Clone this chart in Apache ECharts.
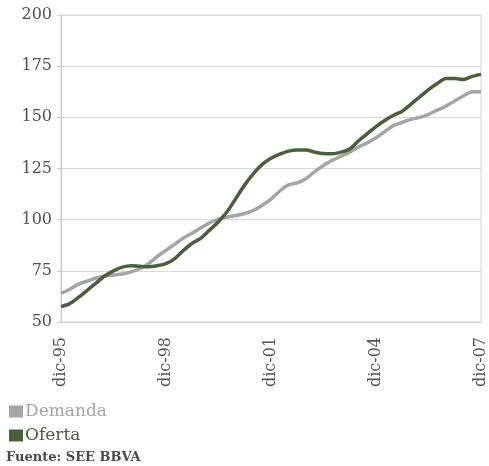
<!DOCTYPE html>
<html lang="es">
<head>
<meta charset="UTF-8">
<title>Demanda y Oferta</title>
<script src="https://cdn.jsdelivr.net/npm/echarts@6/dist/echarts.min.js"></script>
<style>
  html, body { margin: 0; padding: 0; background: #fff; }
  #container { width: 489px; height: 466px; }
</style>
</head>
<body>
<div id="container"></div>
<script>
// datos trimestrales, dic-95 .. dic-07
const years = ['95', '96', '97', '98', '99', '00', '01', '02', '03', '04', '05', '06', '07']
const quarters = ['dic', 'mar', 'jun', 'sep']
const categories = []
categories.push('dic-95')
for (let y = 1; y < years.length; y++) {
  for (let q = 1; q < 4; q++) categories.push(quarters[q] + '-' + years[y])
  categories.push('dic-' + years[y])
}

const demanda = [
  64, 66, 68.5, 70, 71.5, 72.5, 73, 73.5, 74.5, 76, 78.5, 82, 85,
  88, 91, 93.5, 96, 98.5, 100.3, 101.3, 102, 103, 104.5, 107, 110,
  114, 117, 118, 120, 123.5, 126.5, 129, 131, 133, 135.5, 137.5, 140,
  143, 146, 147.5, 149, 150, 151.5, 153.5, 155.5, 158, 160.5, 162.5, 162.5
]
const oferta = [
  57.5, 59, 62, 65.5, 69, 72.5, 75, 76.8, 77.5, 77.2, 77, 77.5, 78.5,
  81, 85, 88.5, 91, 95, 99, 104, 110.5, 117, 122.5, 127, 130,
  132, 133.5, 134, 134, 133, 132.3, 132.2, 133, 134.5, 138.5, 142, 145.5,
  148.5, 151, 153, 156.5, 160, 163.5, 166.5, 169, 169, 168.5, 170, 171
]

const yMin = 50
const yMax = 200
const yStep = 25

const GRAY = '#a5a5a7'
const GREEN = '#4a5f3e'
const FONT = 'DejaVu Serif'

// una leyenda por serie para colocarlas una debajo de otra
function legendItem(name, color, top) {
  return {
    left: 4,
    top: top,
    itemWidth: 14,
    itemHeight: 12,
    icon: 'rect',
    textStyle: { fontSize: 17, fontFamily: FONT, color: color, padding: [0, 0, 0, -3] },
    data: [name]
  }
}

const chart = echarts.init(document.getElementById('container'))
chart.setOption({
  animation: false,
  textStyle: { fontFamily: FONT },
  grid: {
    left: 61, right: 8, top: 15, bottom: 144,
    show: true, borderColor: '#d4d4d4', borderWidth: 1
  },
  xAxis: {
    type: 'category',
    data: categories,
    boundaryGap: false,
    axisLine: { show: true, lineStyle: { color: '#d4d4d4' } },
    axisTick: { show: false },
    axisLabel: {
      interval: 11,
      rotate: 90,
      margin: 15,
      color: '#555555',
      fontSize: 16,
      fontFamily: FONT
    },
    splitLine: { show: false }
  },
  yAxis: {
    type: 'value',
    min: yMin,
    max: yMax,
    interval: yStep,
    axisLine: { show: true, lineStyle: { color: '#c8c8c8' } },
    axisTick: { show: true, length: 4, lineStyle: { color: '#c8c8c8' } },
    axisLabel: {
      color: '#505050',
      fontSize: 16,
      margin: 9,
      fontFamily: FONT
    },
    splitLine: { lineStyle: { color: '#d9d9d9', width: 1 } }
  },
  legend: [
    legendItem('Demanda', GRAY, 398),
    legendItem('Oferta', GREEN, 422)
  ],
  graphic: [{
    type: 'text',
    left: 6,
    top: 451,
    style: {
      text: 'Fuente: SEE BBVA',
      fill: '#4a4a4a',
      font: 'bold 13px "DejaVu Serif"'
    }
  }],
  series: [
    {
      name: 'Demanda',
      type: 'line',
      data: demanda,
      smooth: 0.3,
      symbol: 'none',
      itemStyle: { color: GRAY },
      lineStyle: { color: GRAY, width: 3.5 }
    },
    {
      name: 'Oferta',
      type: 'line',
      data: oferta,
      smooth: 0.3,
      symbol: 'none',
      itemStyle: { color: GREEN },
      lineStyle: { color: GREEN, width: 3.5 }
    }
  ]
})
</script>
</body>
</html>
